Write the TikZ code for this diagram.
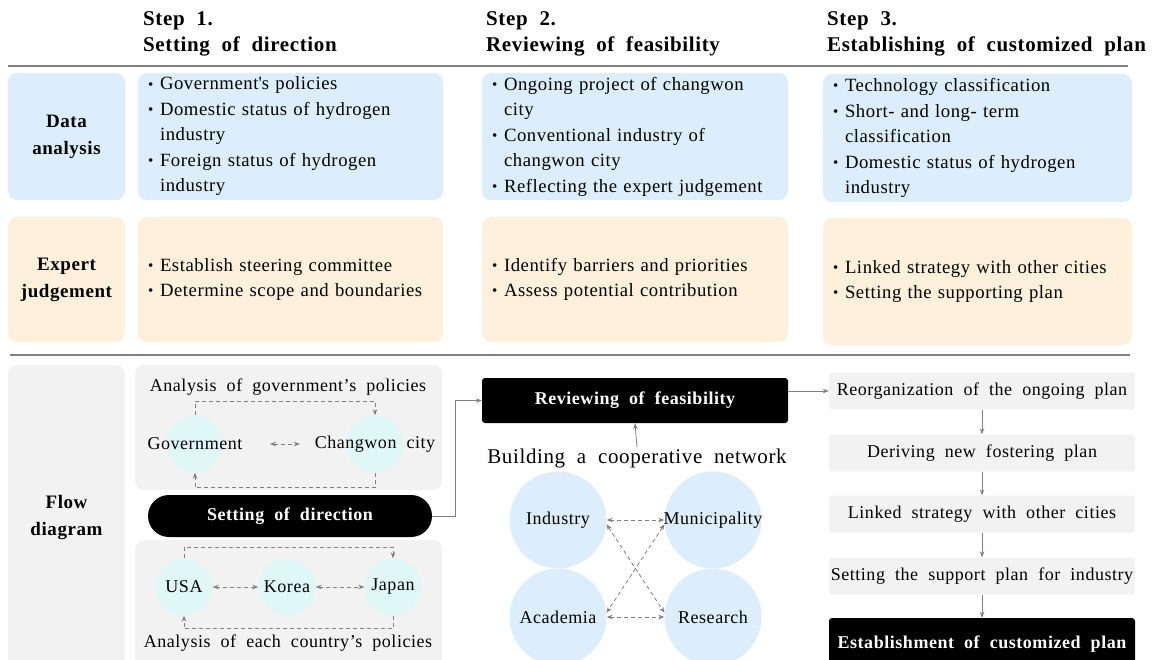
\documentclass[tikz,border=0pt]{standalone}
\usepackage{fontspec}
\setmainfont{Liberation Serif}[LetterSpace=3,WordSpace=2]
\usetikzlibrary{arrows.meta,calc}

\definecolor{dablue}{HTML}{DCEEFB}
\definecolor{exorange}{HTML}{FEF0DA}
\definecolor{flowgray}{HTML}{F2F2F2}
\definecolor{cyancirc}{HTML}{E0F7F8}
\definecolor{arrgray}{HTML}{808080}

\newcommand{\bodyfont}{\fontsize{18}{25.5}\selectfont}
\newcommand{\cellfont}{\fontsize{18.7}{25.5}\selectfont}
\newcommand{\itm}{\makebox[12pt][l]{\raisebox{.1ex}{\fontsize{15}{15}\selectfont\textbullet}}}
\newcommand{\cnt}{\hspace*{12pt}}

\begin{document}
\begin{tikzpicture}[x=1pt,y=-1pt,
  >={Stealth[length=6pt,width=4.5pt]},
  head/.style={anchor=west,inner sep=0pt,align=left,font=\fontsize{21}{26}\selectfont\bfseries},
  rowlabel/.style={rounded corners=9pt,minimum width=117pt,align=center,font=\fontsize{19}{27}\selectfont\bfseries},
  cell/.style={rounded corners=9pt,inner xsep=10pt,align=left,font=\cellfont},
  txt/.style={inner sep=1pt,font=\bodyfont},
  bgbox/.style={fill=flowgray,rounded corners=9pt,minimum width=307pt},
  smallcirc/.style={circle,fill=cyancirc,minimum size=57pt,inner sep=0pt,font=\bodyfont},
  bigcirc/.style={circle,fill=dablue,minimum size=97pt,inner sep=0pt},
  blackbox/.style={fill=black,text=white,rounded corners=3pt,font=\bodyfont\bfseries},
  graybox/.style={fill=flowgray,rounded corners=3pt,minimum width=306pt,minimum height=37pt,inner xsep=2pt,font=\bodyfont},
  arr/.style={draw=arrgray,line width=0.8pt},
  dasharr/.style={arr,dash pattern=on 4pt off 3pt},
  rule/.style={draw=arrgray,line width=1.2pt}]
\clip (0,0) rectangle (1159,660);

\node [head] (h1) at (143,34) {Step 1.\\Setting of direction};
\node [head] (h2) at (486,34) {Step 2.\\Reviewing of feasibility};
\node [head] (h3) at (827,34) {Step 3.\\Establishing of customized plan};
\path [rule] (8,66) -- (1128,66);
\path [rule] (10,355) -- (1130,355);

\node [rowlabel, fill=dablue, minimum height=127pt] (lda) at (66.5,136.5) {Data\\analysis};
\node [rowlabel, fill=exorange, minimum height=125pt] (lej) at (66.5,279.5) {Expert\\judgement};
\node [rowlabel, fill=flowgray, minimum height=305pt] (lfd) at (66.5,517.5) {Flow\\diagram};

\node [cell, fill=dablue, text width=285pt, minimum height=127pt] (da1) at (290.5,136.5) {\itm Government\textquotesingle s policies\\\itm Domestic status of hydrogen\\\cnt industry\\\itm Foreign status of hydrogen\\\cnt industry};
\node [cell, fill=dablue, text width=286pt, minimum height=127pt] (da2) at (635,136.5) {\itm Ongoing project of changwon\\\cnt city\\\itm Conventional industry of\\\cnt changwon city\\\itm Reflecting the expert judgement};
\node [cell, fill=dablue, text width=289pt, minimum height=128pt] (da3) at (977.5,138) {\itm Technology classification\\\itm Short- and long- term\\\cnt classification\\\itm Domestic status of hydrogen\\\cnt industry};
\node [cell, fill=exorange, text width=285pt, minimum height=125pt] (ej1) at (290.5,279.5) {\itm Establish steering committee\\\itm Determine scope and boundaries};
\node [cell, fill=exorange, text width=286pt, minimum height=125pt] (ej2) at (635,279.5) {\itm Identify barriers and priorities\\\itm Assess potential contribution};
\node [cell, fill=exorange, text width=289pt, minimum height=127pt] (ej3) at (977.5,281.5) {\itm Linked strategy with other cities\\\itm Setting the supporting plan};

\node [bgbox, minimum height=125pt] (bg1) at (288.5,427.5) {};
\node [txt] (agp) at (288,387) {Analysis of government's policies};
\node [smallcirc] (gov) at (195,444) {};
\node [smallcirc] (cw) at (375,444) {};
\node [txt] (govt) at (gov) {Government};
\node [txt] (cwt) at (cw) {Changwon city};
\path [dasharr, ->] (gov.north) -- ++(0,-14) -| (cw.north);
\path [dasharr, ->] (cw.south) -- ++(0,15) -| (gov.south);
\path [dasharr, <->] ($(gov)!.5!(cw)+(-15,0)$) -- ($(gov)!.5!(cw)+(15,0)$);

\node [blackbox, rounded corners=21pt, minimum width=284pt, minimum height=42pt] (sod) at (290,516) {Setting of direction};

\node [bgbox, minimum height=130pt] (bg2) at (288.5,605) {};
\node [smallcirc] (usa) at (184,587) {USA};
\node [smallcirc] (kor) at (287,587) {Korea};
\node [smallcirc] (jap) at (393,587) {Japan};
\path [dasharr, <->] (usa) -- (kor);
\path [dasharr, <->] (kor) -- (jap);
\path [dasharr, ->] (usa.north) -- ++(0,-11) -| (jap.north);
\path [dasharr, ->] (jap.south) -- ++(0,13) -| (usa.south);
\node [txt] (aecp) at (288,643) {Analysis of each country's policies};

\node [blackbox, minimum width=306pt, minimum height=45pt] (rev) at (635,400.5) {Reviewing of feasibility};
\path [arr, ->] (sod.east) -- ++(23,0) |- (rev.west);
\node [txt, font=\fontsize{21}{21}\selectfont] (bcn) at (637,458) {Building a cooperative network};
\path [arr, ->] (bcn.north) -- (rev.south);
\node [bigcirc] (ind) at (558,520) {};
\node [bigcirc] (mun) at (713,520) {};
\node [bigcirc] (aca) at (558,617) {};
\node [bigcirc] (res) at (713,617) {};
\node [txt] (indt) at (ind) {Industry};
\node [txt] (munt) at (mun) {Municipality};
\node [txt] (acat) at (aca) {Academia};
\node [txt] (rest) at (res) {Research};
\path [dasharr, <->] (ind) -- (mun);
\path [dasharr, <->] (aca) -- (res);
\path [dasharr, <->] (ind.-5) -- (res.175);
\path [dasharr, <->] (mun.-175) -- (aca.5);

\node [graybox] (ro) at (982,391) {Reorganization of the ongoing plan};
\node [graybox] (dn) at (982,453) {Deriving new fostering plan};
\node [graybox] (ls) at (982,514) {Linked strategy with other cities};
\node [graybox] (sp) at (982,576) {Setting the support plan for industry};
\node [blackbox, minimum width=306pt, minimum height=52pt] (est) at (982,644) {Establishment of customized plan};
\path [arr, ->] (rev.east |- ro.west) -- (ro.west);
\foreach \a/\b in {ro/dn,dn/ls,ls/sp,sp/est}
  \path [arr, ->] (\a) -- (\b);
\end{tikzpicture}
\end{document}
